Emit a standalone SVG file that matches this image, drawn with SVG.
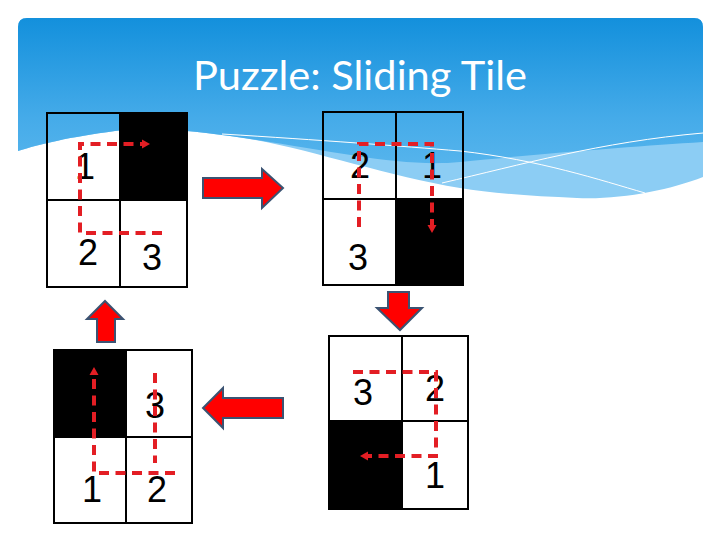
<svg xmlns="http://www.w3.org/2000/svg" width="720" height="540" viewBox="0 0 720 540">
  <defs>
    <linearGradient id="sky" x1="0" y1="18" x2="0" y2="200" gradientUnits="userSpaceOnUse">
      <stop offset="0" stop-color="#1390dc"/>
      <stop offset="0.55" stop-color="#45abe9"/>
      <stop offset="1" stop-color="#62bbef"/>
    </linearGradient>
    <marker id="tip" markerWidth="9" markerHeight="10" refX="1" refY="5" orient="auto" markerUnits="userSpaceOnUse">
      <path d="M0,0.5 L8,5 L0,9.5 Z" fill="#e31e24"/>
    </marker>
    <style>
      .cell { fill: none; stroke: #000; stroke-width: 2; }
      .blank { fill: #000; }
      .num { font-family: "Liberation Sans", "DejaVu Sans", sans-serif; font-size: 36px; fill: #000; text-anchor: middle; }
      .path { fill: none; stroke: #e31e24; stroke-width: 4; stroke-dasharray: 10 6.5; }
      .tail { marker-end: url(#tip); }
      .big { fill: #ff0000; stroke: #3b5372; stroke-width: 2; stroke-linejoin: miter; }
    </style>
  </defs>

  <!-- background -->
  <rect x="0" y="0" width="720" height="540" fill="#ffffff"/>
  <path d="M18,27 Q18,18 27,18 H694 Q703,18 703,27 V177 C670,190 620,200 577,198 C530,196 490,193 460,188 C380,175 300,145 230,136 C180,129 140,127 115,131 C70,137 40,144 18,151 Z" fill="#8ccdf4"/>
  <path d="M18,27 Q18,18 27,18 H694 Q703,18 703,27 V142 C640,146 560,152 460,162 C400,168 330,150 230,136 C180,129 140,127 115,131 C70,137 40,144 18,151 Z" fill="url(#sky)"/>
  <path d="M222,134 C320,140 400,146 460,151 C540,160 600,180 645,193" fill="none" stroke="#ffffff" stroke-width="1"/>
  <path d="M442,183 C520,165 600,142 703,133" fill="none" stroke="#ffffff" stroke-width="1"/>

  <text x="360" y="90" font-family="Lato, 'Open Sans', sans-serif" font-size="40" fill="#ffffff" text-anchor="middle" textLength="334" lengthAdjust="spacingAndGlyphs">Puzzle: Sliding Tile</text>

  <!-- board A -->
  <g id="boardA">
    <rect class="blank" x="120" y="113" width="67" height="87"/>
    <rect class="cell" x="47" y="113" width="140" height="174"/>
    <line class="cell" x1="120" y1="113" x2="120" y2="287"/>
    <line class="cell" x1="47" y1="200" x2="187" y2="200"/>
    <text class="num" x="85" y="179">1</text>
    <text class="num" x="88" y="265">2</text>
    <text class="num" x="152" y="270">3</text>
    <path class="path tail" d="M162,233 H80 V144 H143"/>
  </g>

  <!-- board B -->
  <g id="boardB">
    <rect class="blank" x="396" y="199" width="67" height="86"/>
    <rect class="cell" x="323" y="112" width="140" height="173"/>
    <line class="cell" x1="396" y1="112" x2="396" y2="285"/>
    <line class="cell" x1="323" y1="199" x2="463" y2="199"/>
    <text class="num" x="360" y="178">2</text>
    <text class="num" x="432" y="178">1</text>
    <text class="num" x="358" y="270">3</text>
    <path class="path tail" d="M359,227 V144 H432 V226"/>
  </g>

  <!-- board C -->
  <g id="boardC">
    <rect class="blank" x="54" y="350" width="72" height="87"/>
    <rect class="cell" x="54" y="350" width="138" height="173"/>
    <line class="cell" x1="126" y1="350" x2="126" y2="523"/>
    <line class="cell" x1="54" y1="437" x2="192" y2="437"/>
    <text class="num" x="155" y="418">3</text>
    <text class="num" x="92" y="502">1</text>
    <text class="num" x="157" y="502">2</text>
    <path class="path" d="M155,373 V463"/>
    <path class="path tail" d="M175,473 H94 V374"/>
  </g>

  <!-- board D -->
  <g id="boardD">
    <rect class="blank" x="329" y="421" width="73" height="88"/>
    <rect class="cell" x="329" y="336" width="139" height="173"/>
    <line class="cell" x1="402" y1="336" x2="402" y2="509"/>
    <line class="cell" x1="329" y1="421" x2="468" y2="421"/>
    <text class="num" x="363" y="405">3</text>
    <text class="num" x="435" y="401">2</text>
    <text class="num" x="435" y="488">1</text>
    <path class="path tail" d="M353,372 H436 V456 H367"/>
  </g>

  <!-- connectors -->
  <g id="connectors">
    <path class="big" d="M203,178 H262 V169 L283,188 L262,208 V198 H203 Z"/>
    <path class="big" d="M388,292 H409 V308 H422 L400,330 L377,308 H388 Z"/>
    <path class="big" d="M283,398 V418 H223 V428 L203,408 L223,388 V398 Z"/>
    <path class="big" d="M97,342 V319 H87 L105,301 L123,319 H115 V342 Z"/>
  </g>
</svg>
